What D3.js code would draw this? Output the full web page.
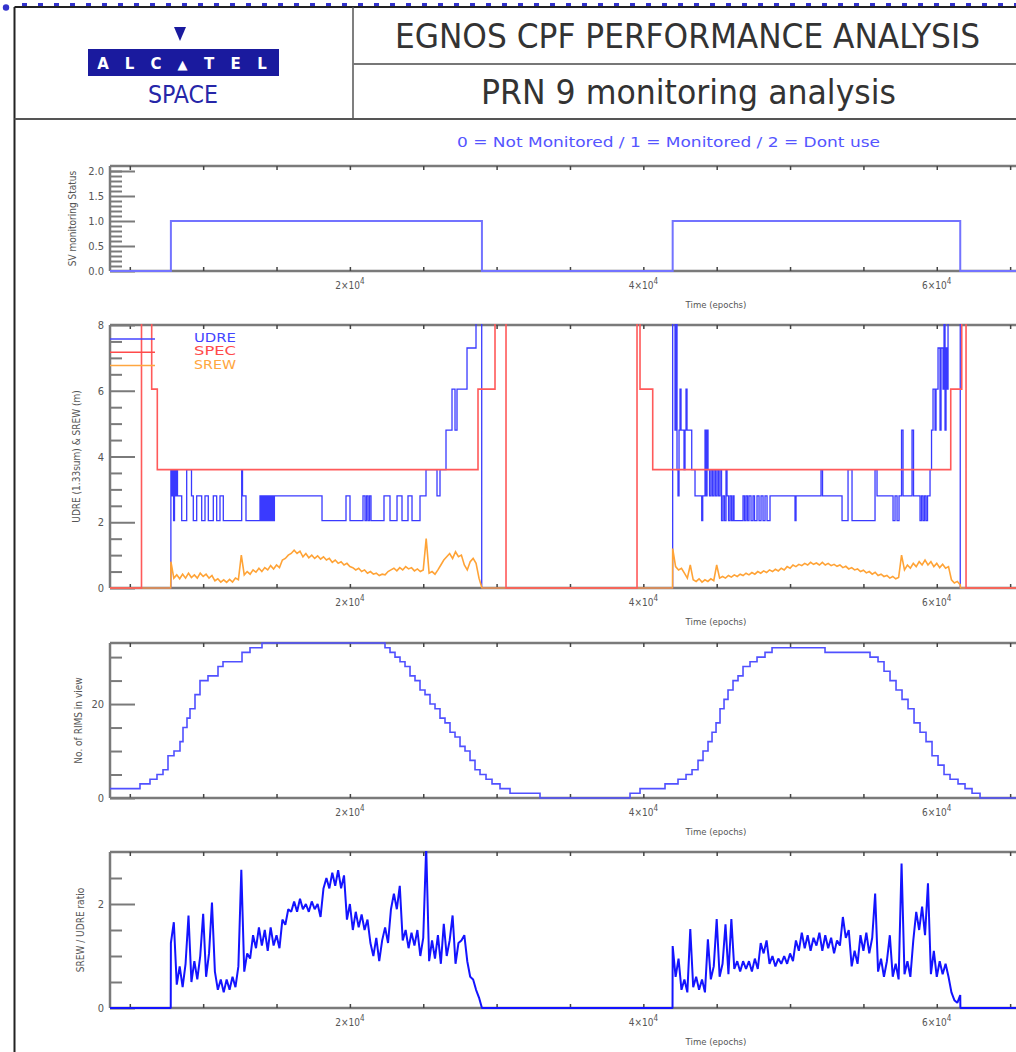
<!DOCTYPE html>
<html><head><meta charset="utf-8">
<script src="https://cdn.jsdelivr.net/npm/d3@7"></script>
<style>body{margin:0;background:#fff;overflow:hidden}svg{display:block}</style>
</head><body><svg id="c" width="1016" height="1052"></svg>
<script>
// ---------------- DATA ----------------
const xDomain = [3650, 65400];
const xMinorTicks = [5000,10000,15000,20000,25000,30000,35000,40000,45000,50000,55000,60000,65000];
const xMajorTicks = [20000, 40000, 60000];
const xMajorLabels = ["2", "4", "6"]; // mantissa of N×10^4
const xTitle = "Time (epochs)";

const statusTicksMajor = [0, 0.5, 1, 1.5, 2];
const statusTickLabels = ["0.0", "0.5", "1.0", "1.5", "2.0"];
const statusTicksMinor = [0.1,0.2,0.3,0.4,0.6,0.7,0.8,0.9,1.1,1.2,1.3,1.4,1.6,1.7,1.8,1.9,2.0];
const statusSteps = [[3650,0],[7800,1],[29000,0],[42000,1],[61600,0],[65400,0]];

const rangeTicksMajor = [0,2,4,6,8];
const rangeTickLabels = ["0","2","4","6","8"];
const rangeTicksMinor = [0.5,1,1.5,2.5,3,3.5,4.5,5,5.5,6.5,7,7.5];
const legendNames = ["UDRE","SPEC","SREW"];

const udreSteps = [[3650,0],[7800,3.6],[7862,2.8],[7923,3.6],[7985,2.05],[8046,3.6],[8114,2.8],[8182,3.6],[8250,2.8],[8537,2.05],[8877,3.6],[9205,2.8],[9327,2.05],[9559,2.8],[9900,2.05],[10125,2.8],[10350,2.05],[10691,2.8],[10922,2.05],[11147,2.8],[11372,2.05],[12626,3.6],[12681,2.8],[12919,2.05],[13874,2.8],[13955,2.05],[14037,2.8],[14119,2.05],[14200,2.8],[14283,2.05],[14365,2.8],[14446,2.05],[14528,2.8],[14610,2.05],[14692,2.8],[14773,2.05],[14855,2.8],[18100,2.05],[19735,2.8],[20008,2.05],[20894,2.8],[21030,2.05],[21133,2.8],[21235,2.05],[21337,2.8],[21439,2.05],[22325,2.8],[22734,2.05],[23212,2.8],[23552,2.05],[23961,2.8],[24234,2.05],[24779,2.8],[25188,3.6],[25938,2.8],[26142,3.6],[26551,4.8],[26960,6.05],[27165,4.8],[27301,6.05],[27983,7.3],[28596,9],[28985,0],
[42000,9],[42160,4.8],[42228,9],[42296,3.6],[42364,2.8],[42433,4.8],[42501,6.05],[42569,4.8],[42773,3.6],[42842,4.8],[42910,6.05],[42978,4.8],[43299,3.6],[43523,2.8],[43980,2.05],[44048,2.8],[44205,4.8],[44273,2.8],[44341,4.8],[44409,3.6],[44512,2.8],[44614,3.6],[44716,2.8],[44818,3.6],[44921,2.8],[45023,3.6],[45125,2.8],[45227,3.6],[45330,2.05],[45432,2.8],[45534,2.05],[45636,3.6],[45704,2.8],[45806,2.05],[45909,2.8],[46011,2.05],[46113,2.8],[46181,2.05],[46795,2.8],[46897,2.05],[46999,2.8],[47102,2.05],[47204,2.8],[47340,2.05],[47476,2.8],[47579,2.05],[47749,2.8],[47885,2.05],[48022,2.8],[48158,2.05],[48294,2.8],[48431,2.05],[48635,2.8],[50339,2.05],[50407,2.8],[52111,3.6],[52214,2.8],[53543,2.05],[53952,3.6],[54224,2.05],[55792,3.6],[55928,2.8],[57019,2.05],[57155,2.8],[57292,2.05],[57428,2.8],[57598,4.8],[57700,2.8],[58314,4.8],[58416,2.8],[58859,2.05],[58961,2.8],[59064,2.05],[59166,2.8],[59268,2.05],[59370,2.8],[59541,3.6],[59643,4.8],[59745,6.05],[59882,4.8],[59950,6.05],[60086,7.3],[60222,4.8],[60291,7.3],[60427,6.05],[60495,9],[60563,4.8],[60631,7.3],[60700,6.05],[60768,9],[61600,0],[65400,0]];

const specSteps = [[3650,0],[5797,9],[6492,6.05],[6874,3.6],[28732,6.05],[29891,9],[30641,0],[39570,9],[39774,6.05],[40640,3.6],[60952,6.05],[61702,9],[61995,0],[65400,0]];

const sampleStep = 200;
const pass1Start = 7800, pass2Start = 42000;
const srewPass1 = [0.8,0.3,0.4,0.28,0.42,0.3,0.45,0.32,0.4,0.3,0.45,0.35,0.42,0.3,0.38,0.22,0.28,0.18,0.25,0.17,0.26,0.18,0.3,0.25,1.0,0.4,0.5,0.42,0.55,0.48,0.6,0.5,0.62,0.55,0.68,0.58,0.7,0.62,0.85,0.9,1.0,1.05,1.15,1.05,1.12,0.95,1.05,0.92,1.0,0.9,0.98,0.88,0.95,0.85,0.9,0.78,0.85,0.75,0.8,0.7,0.75,0.65,0.62,0.55,0.6,0.5,0.55,0.45,0.5,0.42,0.45,0.38,0.42,0.4,0.5,0.55,0.6,0.52,0.62,0.55,0.65,0.58,0.62,0.52,0.58,0.5,0.55,1.5,0.45,0.5,0.42,0.55,0.7,0.85,0.95,1.05,0.9,1.1,0.95,1.0,0.7,0.55,0.8,0.9,0.75,0.3,0.0];
const srewPass2 = [1.2,0.65,0.55,0.6,0.45,0.3,0.7,0.25,0.2,0.28,0.18,0.25,0.2,0.28,0.22,0.7,0.3,0.35,0.3,0.38,0.33,0.4,0.35,0.42,0.38,0.45,0.4,0.47,0.42,0.5,0.45,0.52,0.47,0.55,0.5,0.57,0.52,0.6,0.55,0.65,0.6,0.7,0.65,0.72,0.68,0.75,0.7,0.78,0.72,0.76,0.7,0.78,0.7,0.75,0.68,0.72,0.66,0.7,0.62,0.66,0.58,0.62,0.55,0.58,0.5,0.54,0.46,0.5,0.42,0.48,0.38,0.42,0.35,0.38,0.3,0.35,0.28,0.32,1.0,0.55,0.7,0.6,0.75,0.65,0.8,0.7,0.85,0.7,0.8,0.65,0.75,0.62,0.72,0.6,0.65,0.25,0.15,0.2,0.1];

const rimsTicksMajor = [0, 20];
const rimsTickLabels = ["0", "20"];
const rimsTicksMinor = [5, 10, 15, 25, 30];
const rimsSteps = [[3650,2],[5694,3],[6376,4],[6853,5],[7262,6],[7603,9],[8012,10],[8421,12],[8625,15],[8898,17],[9102,19],[9443,22],[9784,25],[10329,26],[11011,28],[11352,29],[12647,31],[13192,32],[14010,33],[22394,32],[22734,31],[23075,30],[23416,29],[23757,28],[24098,26],[24438,25],[24779,23],[25120,22],[25461,20],[25802,19],[26142,17],[26483,16],[26824,14],[27165,13],[27506,11],[27846,10],[28187,8],[28528,6],[28869,5],[29278,4],[29687,3],[30232,2],[30914,1],[32958,0],[39093,1],[39774,2],[41478,3],[42364,4],[42910,5],[43319,6],[43728,8],[44068,10],[44409,12],[44682,14],[44955,16],[45227,19],[45500,21],[45772,23],[46113,25],[46454,26],[46795,28],[47272,29],[47749,30],[48294,31],[48772,32],[52384,31],[55451,30],[55997,29],[56405,27],[56814,25],[57223,23],[57632,21],[58041,19],[58450,16],[58859,14],[59268,12],[59677,9],[60086,7],[60495,5],[60904,4],[61449,3],[61926,2],[62404,1],[62949,0],[65400,0]];

const ratioTicksMajor = [0, 2];
const ratioTickLabels = ["0", "2"];
const ratioTicksMinor = [0.5, 1, 1.5, 2.5];
const ratioPass1 = [1.25,1.65,0.45,0.8,0.4,0.85,1.78,0.5,0.9,0.55,1.0,1.81,0.6,1.05,2.03,0.7,0.35,0.55,0.3,0.55,0.35,0.6,0.4,0.8,2.66,0.7,1.05,0.95,1.4,1.15,1.55,1.2,1.5,1.1,1.55,1.2,1.4,1.15,1.7,1.6,1.9,1.85,2.05,1.85,2.1,1.9,2.0,1.85,2.05,1.9,2.0,1.75,2.3,2.5,2.3,2.6,2.35,2.65,2.3,2.55,1.7,2.0,1.5,1.85,1.55,1.8,1.5,1.7,1.25,1.0,1.35,0.9,1.3,1.55,1.25,1.9,2.2,1.9,2.35,1.3,1.5,1.15,1.45,1.2,1.5,1.0,1.35,3.1,0.9,1.3,0.95,1.4,0.85,1.62,1.0,1.3,1.78,0.85,1.25,1.3,1.4,0.9,0.6,0.55,0.35,0.2,0.0];
const ratioPass2 = [1.19,0.6,0.95,0.35,0.55,0.3,1.52,0.4,0.6,0.35,0.55,0.3,1.32,0.55,0.8,1.71,0.6,0.85,1.61,0.65,1.71,0.75,0.9,0.7,0.9,0.75,0.9,0.7,0.95,0.75,1.25,1.05,1.3,0.85,1.0,0.8,0.95,0.85,1.0,0.85,1.05,0.9,1.3,1.1,1.45,1.15,1.4,1.1,1.35,1.2,1.45,1.1,1.4,1.15,1.35,1.05,1.3,1.2,1.75,1.35,1.5,0.8,1.1,0.85,1.4,1.1,1.45,1.05,1.35,2.2,0.7,0.95,0.6,0.9,1.4,0.6,0.85,0.55,2.78,0.65,0.9,0.6,1.3,1.85,1.5,1.95,1.4,2.4,0.65,1.1,0.6,0.9,0.65,0.85,0.6,0.3,0.15,0.1,0.25];

// ---------------- DRAW ----------------
const svg = d3.select("#c");
const FONT = "'Liberation Sans Narrow','DejaVu Sans Condensed','Liberation Sans',sans-serif";
const AX = "#7a7a7a";

// page border + dotted top
svg.append("line").attr("x1",22).attr("x2",1016).attr("y1",4.5).attr("y2",4.5)
  .attr("stroke","#3333cc").attr("stroke-width",3).attr("stroke-dasharray","5 11");
svg.append("circle").attr("cx",6).attr("cy",7.5).attr("r",3.2).attr("fill","#3333cc");
const frame = svg.append("g").attr("stroke","#222").attr("stroke-width",2).attr("fill","none");
frame.append("line").attr("x1",14.5).attr("x2",1016).attr("y1",7).attr("y2",7);
frame.append("line").attr("x1",14.5).attr("x2",14.5).attr("y1",7).attr("y2",1052);
frame.append("line").attr("x1",353).attr("x2",353).attr("y1",7).attr("y2",119).attr("stroke","#555").attr("stroke-width",1.5);
frame.append("line").attr("x1",353).attr("x2",1016).attr("y1",64).attr("y2",64).attr("stroke","#777").attr("stroke-width",2);
frame.append("line").attr("x1",14.5).attr("x2",1016).attr("y1",119).attr("y2",119).attr("stroke","#555").attr("stroke-width",2);

// logo
svg.append("path").attr("d","M174,27 L186,27 L180,41 Z").attr("fill","#1a1a9e");
svg.append("rect").attr("x",88).attr("y",49).attr("width",191).attr("height",27).attr("fill","#1a1a9e");
const logoLetters = ["A","L","C","\u25B2","T","E","L"];
svg.append("g").selectAll("text").data(logoLetters).join("text")
  .attr("x",(d,i)=>103+i*26.5).attr("y",69).attr("text-anchor","middle")
  .attr("font-family","'DejaVu Sans',sans-serif").attr("font-weight","bold")
  .attr("font-size",(d)=>d==="\u25B2"?13:15).attr("fill","#fff").text(d=>d);
svg.append("text").attr("x",183).attr("y",103).attr("text-anchor","middle")
  .attr("font-family",FONT).attr("font-size",25).attr("fill","#2626a8")
  .attr("textLength",70).attr("lengthAdjust","spacingAndGlyphs").text("SPACE");

svg.append("text").attr("x",395).attr("y",48).attr("font-family",FONT).attr("font-size",33)
  .attr("fill","#333").attr("textLength",585).attr("lengthAdjust","spacingAndGlyphs")
  .text("EGNOS CPF PERFORMANCE ANALYSIS");
svg.append("text").attr("x",481).attr("y",104).attr("font-family",FONT).attr("font-size",33)
  .attr("fill","#333").attr("textLength",415).attr("lengthAdjust","spacingAndGlyphs")
  .text("PRN 9 monitoring analysis");
svg.append("text").attr("x",457).attr("y",147).attr("font-family",FONT).attr("font-size",14)
  .attr("fill","#5555ff").attr("textLength",423).attr("lengthAdjust","spacingAndGlyphs")
  .text("0 = Not Monitored / 1 = Monitored / 2 = Dont use");

const x = d3.scaleLinear().domain(xDomain).range([110, 1016]);

function panel(cfg) {
  const {top, bottom, yDomain, major, labels, minor, title, titleX, id} = cfg;
  const y = d3.scaleLinear().domain(yDomain).range([bottom, top]);
  const g = svg.append("g");
  g.append("line").attr("x1",110).attr("x2",1016).attr("y1",top).attr("y2",top).attr("stroke",AX).attr("stroke-width",2.5);
  g.append("line").attr("x1",110).attr("x2",1016).attr("y1",bottom).attr("y2",bottom).attr("stroke",AX).attr("stroke-width",2.5);
  g.append("line").attr("x1",110).attr("x2",110).attr("y1",top).attr("y2",bottom).attr("stroke",AX).attr("stroke-width",2.5);
  const xb = g.append("g").attr("transform",`translate(0,${bottom})`)
    .call(d3.axisBottom(x).tickValues(xMinorTicks).tickSize(-4).tickFormat(""));
  const xt = g.append("g").attr("transform",`translate(0,${top})`)
    .call(d3.axisTop(x).tickValues(xMinorTicks).tickSize(-4).tickFormat(""));
  [xb,xt].forEach(a=>{a.select(".domain").remove(); a.selectAll("line").attr("stroke","#444").attr("stroke-width",1.5);});
  const lab = g.append("g").selectAll("text").data(xMajorTicks).join("text")
    .attr("x",d=>x(d)).attr("y",bottom+18).attr("text-anchor","middle")
    .attr("font-family",FONT).attr("font-size",10).attr("fill","#555");
  lab.append("tspan").text((d,i)=>xMajorLabels[i]+"\u00D710");
  lab.append("tspan").attr("dy",-5).attr("font-size",8).text("4");
  g.append("text").attr("x",716).attr("y",bottom+37).attr("text-anchor","middle")
    .attr("font-family",FONT).attr("font-size",9.5).attr("fill","#555").text(xTitle);
  const ya = g.append("g").attr("transform","translate(110,0)")
    .call(d3.axisLeft(y).tickValues(major).tickSize(-25).tickPadding(6).tickFormat((d,i)=>labels[i]));
  const ym = g.append("g").attr("transform","translate(110,0)")
    .call(d3.axisLeft(y).tickValues(minor).tickSize(-12).tickFormat(""));
  [ya,ym].forEach(a=>{a.select(".domain").remove(); a.selectAll("line").attr("stroke",AX).attr("stroke-width",2);});
  ya.selectAll("text").attr("font-family",FONT).attr("font-size",11).attr("fill","#555");
  g.append("text").attr("transform",`translate(${titleX},${(top+bottom)/2}) rotate(-90)`)
    .attr("text-anchor","middle").attr("font-family",FONT).attr("font-size",10).attr("fill","#555").text(title);
  svg.append("clipPath").attr("id",id).append("rect")
    .attr("x",110).attr("y",top-1).attr("width",906).attr("height",bottom-top+2);
  const data = svg.append("g").attr("clip-path",`url(#${id})`);
  return {y, data};
}

const stepLine = (y)=>d3.line().x(d=>x(d[0])).y(d=>y(d[1])).curve(d3.curveStepAfter);
const plainLine = (y)=>d3.line().x(d=>x(d[0])).y(d=>y(d[1]));
const sampled = (start, vals)=>vals.map((v,i)=>[start+i*sampleStep, v]);
const withZeros = (p1, p2)=>[[xDomain[0],0],[pass1Start-10,0],...sampled(pass1Start,p1),
  [pass1Start+(p1.length-1)*sampleStep+10,0],[pass2Start-10,0],...sampled(pass2Start,p2),
  [pass2Start+(p2.length-1)*sampleStep+10,0],[xDomain[1],0]];

// Panel 1
const p1 = panel({top:166,bottom:271,yDomain:[0,2.1],major:statusTicksMajor,labels:statusTickLabels,
  minor:statusTicksMinor,title:"SV monitoring Status",titleX:76,id:"c1"});
p1.data.append("path").datum(statusSteps).attr("d",stepLine(p1.y))
  .attr("fill","none").attr("stroke","#7373ff").attr("stroke-width",2);

// Panel 2
const p2 = panel({top:325,bottom:588,yDomain:[0,8],major:rangeTicksMajor,labels:rangeTickLabels,
  minor:rangeTicksMinor,title:"UDRE (1.33sum) & SREW (m)",titleX:80,id:"c2"});
p2.data.append("path").datum(udreSteps).attr("d",stepLine(p2.y))
  .attr("fill","none").attr("stroke","#3a3aff").attr("stroke-width",1.3);
p2.data.append("path").datum(withZeros(srewPass1,srewPass2)).attr("d",plainLine(p2.y))
  .attr("fill","none").attr("stroke","#ffa336").attr("stroke-width",1.6);
p2.data.append("path").datum(specSteps).attr("d",stepLine(p2.y))
  .attr("fill","none").attr("stroke","#ff5a5a").attr("stroke-width",1.6);
const legColors = ["#4444ff","#ff4a4a","#ffa640"];
const leg = svg.append("g");
leg.selectAll("line").data(legendNames).join("line")
  .attr("x1",110).attr("x2",155).attr("y1",(d,i)=>339+i*13.3).attr("y2",(d,i)=>339+i*13.3)
  .attr("stroke",(d,i)=>legColors[i]).attr("stroke-width",1.5);
leg.selectAll("text").data(legendNames).join("text")
  .attr("x",194).attr("y",(d,i)=>342+i*13.3).attr("font-family",FONT).attr("font-size",13)
  .attr("fill",(d,i)=>legColors[i]).attr("textLength",42).attr("lengthAdjust","spacingAndGlyphs").text(d=>d);

// Panel 3
const p3 = panel({top:643,bottom:798,yDomain:[0,33],major:rimsTicksMajor,labels:rimsTickLabels,
  minor:rimsTicksMinor,title:"No. of RIMS in view",titleX:82,id:"c3"});
p3.data.append("path").datum(rimsSteps).attr("d",stepLine(p3.y))
  .attr("fill","none").attr("stroke","#5050ff").attr("stroke-width",1.6);

// Panel 4
const p4 = panel({top:852,bottom:1008,yDomain:[0,3],major:ratioTicksMajor,labels:ratioTickLabels,
  minor:ratioTicksMinor,title:"SREW / UDRE ratio",titleX:84,id:"c4"});
p4.data.append("path").datum(withZeros(ratioPass1,ratioPass2)).attr("d",plainLine(p4.y))
  .attr("fill","none").attr("stroke","#1414ff").attr("stroke-width",2)
  .attr("stroke-linejoin","bevel");
</script></body></html>
